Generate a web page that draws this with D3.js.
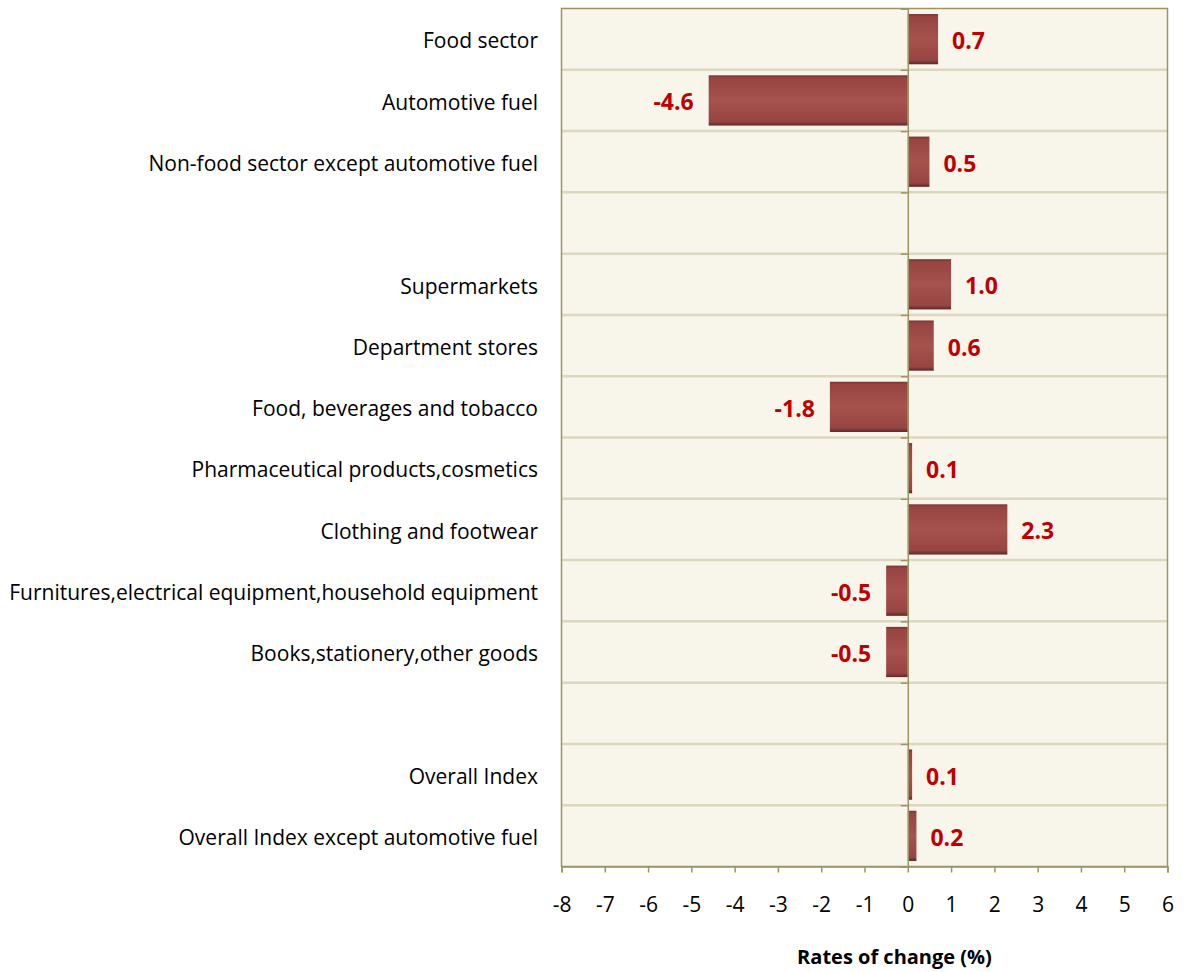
<!DOCTYPE html>
<html><head><meta charset="utf-8">
<script src="https://cdn.jsdelivr.net/npm/d3@7"></script>
<style>body{margin:0;background:#fff;} svg{display:block;}</style>
</head><body>
<svg id="chart" width="1184" height="972"></svg>
<script>
const categories = ["Food sector","Automotive fuel","Non-food sector except automotive fuel","",
  "Supermarkets","Department stores","Food, beverages and tobacco","Pharmaceutical products,cosmetics",
  "Clothing and footwear","Furnitures,electrical equipment,household equipment","Books,stationery,other goods","",
  "Overall Index","Overall Index except automotive fuel"];
const values = [0.7,-4.6,0.5,null,1.0,0.6,-1.8,0.1,2.3,-0.5,-0.5,null,0.1,0.2];
const xTicks = [-8,-7,-6,-5,-4,-3,-2,-1,0,1,2,3,4,5,6];
const axisTitle = "Rates of change (%)";

const svg = d3.select("#chart");
const L = 561.5, R = 1167.5, T = 8.5, B = 866.5;
const x = d3.scaleLinear().domain([-8,6]).range([L,R]);
const ids = categories.map((c,i)=>i);
const y = d3.scaleBand().domain(ids).range([T,B]).paddingInner(0.18).paddingOuter(0.09);
const yb = d3.scaleBand().domain(ids).range([T,B]);
const font = "'Open Sans', sans-serif";

const defs = svg.append("defs");
const g = defs.append("linearGradient").attr("id","barg").attr("x1",0).attr("x2",0).attr("y1",0).attr("y2",1);
[[0,"#7e3532"],[0.06,"#974542"],[0.5,"#a6524d"],[0.92,"#974542"],[1,"#5e2624"]].forEach(([o,c])=>g.append("stop").attr("offset",o).attr("stop-color",c));

svg.append("rect").attr("x",L).attr("y",T).attr("width",R-L).attr("height",B-T).attr("fill","#f8f5ea");

svg.append("g").selectAll("line").data(ids.slice(1)).join("line")
  .attr("x1",L).attr("x2",R).attr("y1",d=>yb(d)).attr("y2",d=>yb(d))
  .attr("stroke","#dcd7bf").attr("stroke-width",2.5);

svg.append("g").selectAll("rect").data(ids.filter(i=>values[i]!==null)).join("rect")
  .attr("x",i=>x(Math.min(0,values[i])))
  .attr("width",i=>Math.abs(x(values[i])-x(0)))
  .attr("y",i=>y(i)).attr("height",y.bandwidth())
  .attr("fill","url(#barg)");

svg.append("rect").attr("x",L).attr("y",T).attr("width",R-L).attr("height",B-T)
  .attr("fill","none").attr("stroke","#9d9466").attr("stroke-width",1.5);

const zeroAxis = d3.axisLeft(d3.scaleLinear().domain([0,categories.length]).range([T,B]))
  .tickValues(d3.range(0,categories.length+1)).tickSize(7).tickFormat("");
svg.append("g").attr("transform",`translate(${x(0)},0)`).call(zeroAxis)
  .call(s=>s.selectAll("path,line").attr("stroke","#9d9466").attr("stroke-width",1.5));

const xa = d3.axisBottom(x).tickValues(xTicks).tickSize(6).tickPadding(25).tickFormat(d=>String(d));
svg.append("g").attr("transform",`translate(0,${B})`).call(xa)
  .call(s=>s.select(".domain").attr("stroke","#9d9466").attr("stroke-width",1.5))
  .call(s=>s.selectAll(".tick line").attr("stroke","#9d9466").attr("stroke-width",1.5))
  .call(s=>s.selectAll(".tick text").attr("font-family",font).attr("font-size",21).attr("fill","#000"));

svg.append("g").selectAll("text").data(ids).join("text")
  .attr("x",538).attr("y",i=>yb(i)+yb.bandwidth()/2+2).attr("dy","0.35em")
  .attr("text-anchor","end").attr("font-family",font).attr("font-size",21).attr("fill","#000")
  .text(i=>categories[i]);

svg.append("g").selectAll("text").data(ids.filter(i=>values[i]!==null)).join("text")
  .attr("x",i=>values[i]>=0 ? x(values[i])+14 : x(values[i])-15)
  .attr("y",i=>yb(i)+yb.bandwidth()/2+2).attr("dy","0.35em")
  .attr("text-anchor",i=>values[i]>=0?"start":"end")
  .attr("font-family",font).attr("font-size",23).attr("font-weight","bold").attr("fill","#c00000")
  .text(i=>values[i].toFixed(1));

svg.append("text").attr("x",(L+R)/2+30).attr("y",964).attr("text-anchor","middle")
  .attr("font-family",font).attr("font-size",20).attr("font-weight","bold").text(axisTitle);
</script>
</body></html>
